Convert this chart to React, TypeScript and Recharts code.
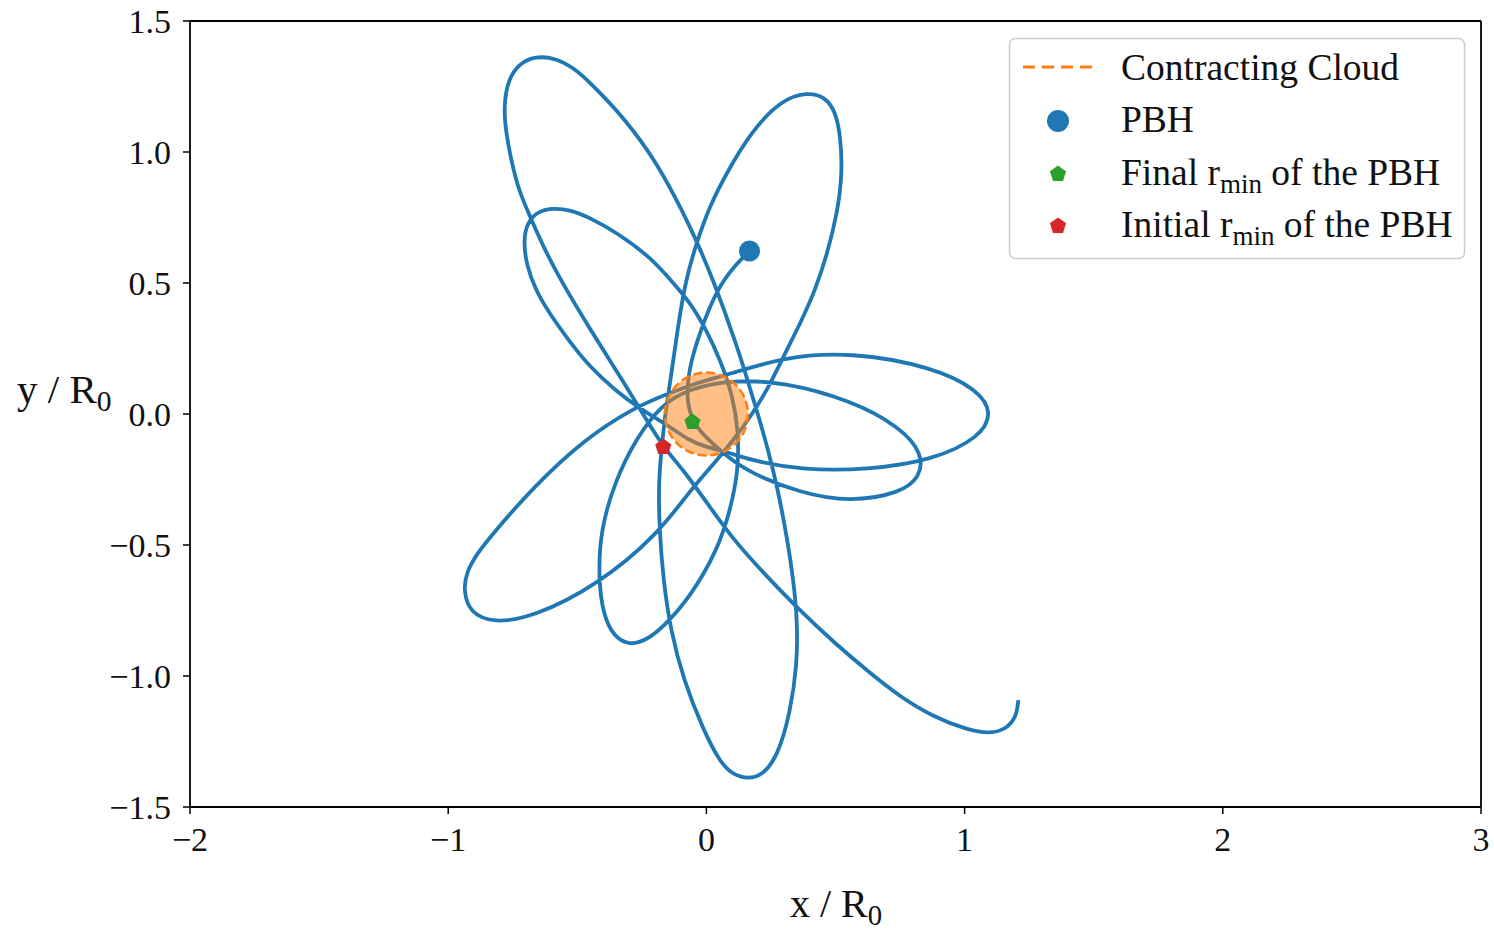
import React from "react";
import {
  ComposedChart,
  Line,
  Scatter,
  XAxis,
  YAxis,
  ReferenceLine,
} from "recharts";

// PBH trajectory (x / R0, y / R0), in time order
const pathX = [
  1.208, 1.201, 1.162, 1.1, 1.011, 0.879, 0.751, 0.624, 0.492, 0.36, 0.232, 0.105, 0.008, -0.089, -0.167,
  -0.236, -0.345, -0.449, -0.565, -0.631, -0.682, -0.728, -0.759, -0.782, -0.782, -0.767, -0.728, -0.662,
  -0.585, -0.507, -0.449, -0.321, -0.19, -0.089, -0.035, 0.027, 0.12, 0.159, 0.198, 0.236, 0.275, 0.314,
  0.337, 0.352, 0.352, 0.325, 0.275, 0.217, 0.163, 0.105, 0.054, -0.012, -0.089, -0.139, -0.167, -0.182,
  -0.186, -0.17, -0.159, -0.139, -0.112, -0.081, -0.035, 0.015, 0.074, 0.17, 0.287, 0.391, 0.461, 0.5, 0.519,
  0.527, 0.507, 0.469, 0.422, 0.364, 0.298, 0.236, 0.17, 0.105, 0.035, -0.062, -0.19, -0.422, -0.67, -0.825,
  -0.914, -0.941, -0.93, -0.887, -0.825, -0.67, -0.476, -0.283, -0.159, -0.043, 0.081, 0.298, 0.558, 0.879,
  1.053, 1.108, 1.061, 0.879, 0.624, 0.364, 0.17, 0.081, -0.004, -0.07, -0.139, -0.267, -0.345, -0.449,
  -0.534, -0.604, -0.662, -0.697, -0.709, -0.693, -0.651, -0.593, -0.527, -0.449, -0.345, -0.217, -0.132,
  -0.062, -0.004, 0.054, 0.101, 0.124, 0.124, 0.093, 0.043, -0.062, -0.167, -0.236, -0.302, -0.36, -0.399,
  -0.418, -0.411, -0.352, -0.275, -0.178, -0.062, 0.105, 0.298, 0.558, 0.751, 0.837, 0.829, 0.751, 0.558,
  0.364, 0.17, 0.081, -0.004, -0.054, -0.077, -0.07, -0.023, 0.043, 0.112, 0.167,
];
const pathY = [
  -1.092, -1.156, -1.202, -1.221, -1.206, -1.156, -1.08, -0.981, -0.87, -0.748, -0.618, -0.481, -0.347,
  -0.214, -0.126, -0.015, 0.16, 0.321, 0.511, 0.637, 0.752, 0.855, 0.981, 1.111, 1.198, 1.275, 1.336, 1.366,
  1.359, 1.317, 1.263, 1.134, 0.958, 0.767, 0.653, 0.511, 0.256, 0.13, 0.004, -0.126, -0.279, -0.481, -0.634,
  -0.786, -0.95, -1.141, -1.309, -1.378, -1.393, -1.378, -1.332, -1.206, -1.015, -0.824, -0.634, -0.443,
  -0.252, -0.099, 0.004, 0.13, 0.321, 0.511, 0.664, 0.798, 0.912, 1.073, 1.198, 1.229, 1.21, 1.153, 1.065,
  0.92, 0.767, 0.615, 0.473, 0.347, 0.218, 0.092, -0.011, -0.099, -0.183, -0.29, -0.462, -0.653, -0.775,
  -0.798, -0.76, -0.679, -0.603, -0.531, -0.454, -0.279, -0.099, 0.023, 0.073, 0.118, 0.149, 0.218, 0.237,
  0.179, 0.092, 0.004, -0.088, -0.176, -0.214, -0.214, -0.176, -0.145, -0.126, -0.099, -0.05, 0.027, 0.084,
  0.176, 0.282, 0.378, 0.473, 0.569, 0.664, 0.733, 0.775, 0.786, 0.779, 0.748, 0.691, 0.599, 0.504, 0.424,
  0.328, 0.206, 0.073, -0.061, -0.214, -0.366, -0.519, -0.698, -0.813, -0.866, -0.882, -0.847, -0.767,
  -0.634, -0.443, -0.252, -0.099, 0.034, 0.099, 0.13, 0.122, 0.053, -0.05, -0.149, -0.24, -0.302, -0.336,
  -0.302, -0.225, -0.164, -0.088, -0.031, 0.053, 0.168, 0.321, 0.481, 0.569, 0.622,
];

// contracting cloud centre
const cloudX = [0];
const cloudY = [0];

// markers: PBH now, final r_min, initial r_min
const markerNames = ["PBH", "final", "initial"];
const markerX = [0.167, -0.054, -0.167];
const markerY = [0.622, -0.031, -0.126];

const xTicks = [-2, -1, 0, 1, 2, 3];
const yTicks = [-1.5, -1.0, -0.5, 0.0, 0.5, 1.0, 1.5];

const FONT = "'Liberation Serif', 'DejaVu Serif', serif";
const BLUE = "#1f77b4";
const ORANGE = "#ff7f0e";
const GREEN = "#2ca02c";
const RED = "#d62728";

const pathData = pathX.map((x, i) => ({ x, y: pathY[i] }));
const cloudData = cloudX.map((x, i) => ({ x, y: cloudY[i] }));
const markerData = markerNames.map((name, i) => ({ name, x: markerX[i], y: markerY[i] }));

const pentagon = (cx: number, cy: number, r: number) =>
  [0, 1, 2, 3, 4]
    .map((k) => {
      const a = ((-90 + 72 * k) * Math.PI) / 180;
      return `${cx + r * Math.cos(a)},${cy + r * Math.sin(a)}`;
    })
    .join(" ");

const CloudShape = (props: any) => (
  <circle
    cx={props.cx}
    cy={props.cy}
    r={41.5}
    fill={ORANGE}
    fillOpacity={0.5}
    stroke={ORANGE}
    strokeWidth={2.5}
    strokeDasharray="9 4"
  />
);

const MarkerShape = (props: any) => {
  const { cx, cy, payload } = props;
  if (payload.name === "PBH") return <circle cx={cx} cy={cy} r={10.5} fill={BLUE} />;
  const color = payload.name === "final" ? GREEN : RED;
  return <polygon points={pentagon(cx, cy, 8.5)} fill={color} />;
};

const minus = (s: string) => s.replace("-", "\u2212");

function Overlay() {
  const legendText = { fontFamily: FONT, fontSize: 37.5, fill: "#111" };
  const sub = { fontSize: "0.72em", dy: "0.28em" };
  return (
    <svg
      width={1494}
      height={931}
      style={{ position: "absolute", left: 0, top: 0, pointerEvents: "none" }}
    >
      {/* axis titles */}
      <text x={836} y={917} textAnchor="middle" fontFamily={FONT} fontSize={40} fill="#111">
        x / R<tspan {...sub}>0</tspan>
      </text>
      <text x={17} y={403} fontFamily={FONT} fontSize={41} fill="#111">
        y / R<tspan {...sub}>0</tspan>
      </text>

      {/* legend */}
      <rect x={1009.5} y={38.5} width={455} height={220} rx={6} fill="#fff" fillOpacity={0.8} stroke="#cccccc" strokeWidth={1.5} />
      <line x1={1023} y1={67} x2={1092} y2={67} stroke={ORANGE} strokeWidth={3} strokeDasharray="12 7" />
      <circle cx={1058} cy={121} r={11} fill={BLUE} />
      <polygon points={pentagon(1058, 174, 8.5)} fill={GREEN} />
      <polygon points={pentagon(1058, 226, 8.5)} fill={RED} />
      <text x={1121} y={80} {...legendText}>Contracting Cloud</text>
      <text x={1121} y={132} {...legendText}>PBH</text>
      <text x={1121} y={185} {...legendText}>
        Final r<tspan {...sub}>min</tspan>
        <tspan dy="-0.2em"> of the PBH</tspan>
      </text>
      <text x={1121} y={237} {...legendText}>
        Initial r<tspan {...sub}>min</tspan>
        <tspan dy="-0.2em"> of the PBH</tspan>
      </text>
    </svg>
  );
}

export default function App() {
  const tickStyle = { fontFamily: FONT, fontSize: 34, fill: "#111" };
  return (
    <div style={{ position: "absolute", left: 0, top: 0, width: 1494, height: 931, background: "#fff" }}>
      <ComposedChart
        width={1494}
        height={931}
        data={pathData}
        margin={{ top: 21, right: 13, bottom: 0, left: 0 }}
      >
        <XAxis
          type="number"
          dataKey="x"
          domain={[-2, 3]}
          ticks={xTicks}
          height={124}
          tick={tickStyle}
          tickFormatter={(v: number) => minus(String(v))}
          tickSize={7}
          tickMargin={13}
          axisLine={{ stroke: "#000", strokeWidth: 1.8 }}
          tickLine={{ stroke: "#000", strokeWidth: 1.5 }}
          allowDataOverflow
        />
        <YAxis
          type="number"
          dataKey="y"
          domain={[-1.5, 1.5]}
          ticks={yTicks}
          width={190}
          tick={tickStyle}
          tickFormatter={(v: number) => minus(v.toFixed(1))}
          tickSize={7}
          tickMargin={12}
          axisLine={{ stroke: "#000", strokeWidth: 1.8 }}
          tickLine={{ stroke: "#000", strokeWidth: 1.5 }}
          allowDataOverflow
        />
        <ReferenceLine y={1.5} stroke="#000" strokeWidth={1.8} />
        <ReferenceLine x={3} stroke="#000" strokeWidth={1.8} />
        <Line
          type="basis"
          dataKey="y"
          stroke={BLUE}
          strokeWidth={3.8}
          dot={false}
          activeDot={false}
          isAnimationActive={false}
        />
        <Scatter data={cloudData} dataKey="y" shape={CloudShape} isAnimationActive={false} />
        <Scatter data={markerData} dataKey="y" shape={MarkerShape} isAnimationActive={false} />
      </ComposedChart>
      <Overlay />
    </div>
  );
}
